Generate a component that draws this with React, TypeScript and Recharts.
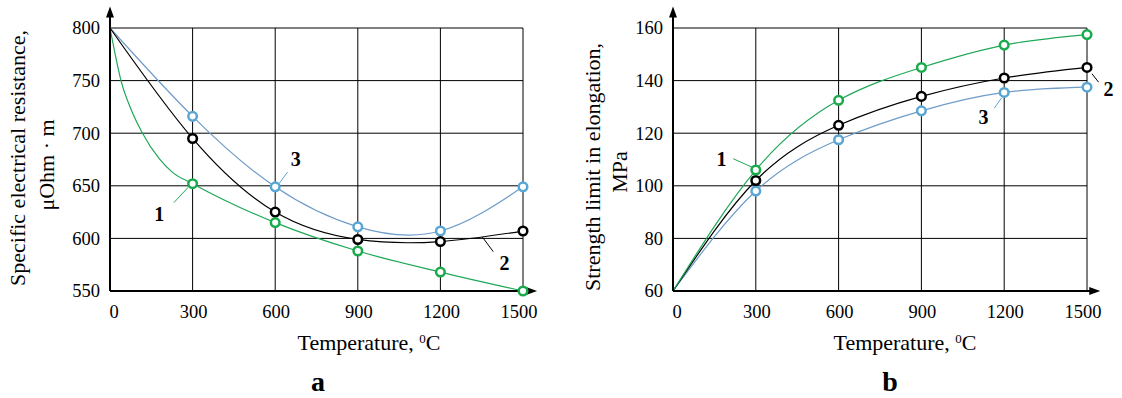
import React from "react";
import {
  LineChart,
  Line,
  XAxis,
  YAxis,
  CartesianGrid,
  ReferenceLine,
  ReferenceDot,
} from "recharts";

// ---------- data ----------
const temps = [0, 300, 600, 900, 1200, 1500];
const markedTemps = [300, 600, 900, 1200, 1500];
const xTicks = [0, 300, 600, 900, 1200, 1500];

// chart a: specific electrical resistance, µOhm·m
const resist1Temps = [0, 22, 40, 76, 118, 178, 226, 300, 600, 900, 1200, 1500];
const resist1 = [800, 771, 750, 723, 700, 676, 663, 652, 615, 588, 568, 550];
const resist2 = [800, 695, 625, 599, 597, 607];
const resist3 = [800, 716, 649, 611, 607, 649];
const resistTicks = [550, 600, 650, 700, 750, 800];

// chart b: strength limit in elongation, MPa
const strength1 = [60, 106, 132.5, 145, 153.5, 157.5];
const strength2 = [60, 102, 123, 134, 141, 145];
const strength3 = [60, 98, 117.5, 128.5, 135.5, 137.5];
const strengthTicks = [60, 80, 100, 120, 140, 160];

const toPoints = (xs: number[], ys: number[]) =>
  xs.map((t, i) => ({ t, v: ys[i] }));

// ---------- styles ----------
const SERIF = "'Liberation Serif', 'Times New Roman', Times, serif";
const GREEN = "#1ea858";
const GREEN_DOT = "#19aa4c";
const BLUE = "#6f9cc8";
const BLUE_DOT = "#5aa6d3";
const BLACK = "#000";

const makeDot = (color: string) => (props: any) => {
  const { cx, cy, payload, index } = props;
  if (!markedTemps.includes(payload.t) || cx == null || cy == null)
    return <g key={`e${index}`} />;
  return (
    <circle
      key={`d${index}`}
      cx={cx}
      cy={cy}
      r={4.3}
      fill="#fff"
      stroke={color}
      strokeWidth={2.5}
    />
  );
};

const upArrow = (p: any) => (
  <path
    d={`M${p.cx},${p.cy} L${p.cx - 4},${p.cy + 11} L${p.cx + 4},${p.cy + 11} Z`}
    fill="#000"
  />
);
const rightArrow = (p: any) => (
  <path
    d={`M${p.cx},${p.cy} L${p.cx - 11},${p.cy - 4} L${p.cx - 11},${p.cy + 4} Z`}
    fill="#000"
  />
);
const numLabel = (txt: string) => (p: any) => (
  <text
    x={p.cx}
    y={p.cy}
    textAnchor="middle"
    dominantBaseline="central"
    style={{ fontFamily: SERIF, fontWeight: "bold", fontSize: 20 }}
    fill="#000"
  >
    {txt}
  </text>
);

const tickText: React.CSSProperties = { fontFamily: SERIF, fontSize: 18.5 };

const XTick = (p: any) => {
  const v = p.payload.value;
  const dx = v === 0 ? 4 : v === 1500 ? -4 : 1;
  return (
    <text
      x={p.x + dx}
      y={p.y}
      dy="0.71em"
      textAnchor="middle"
      style={tickText}
      fill="#000"
    >
      {v}
    </text>
  );
};
const YTick = (p: any) => (
  <text
    x={p.x}
    y={p.y}
    dy="0.35em"
    textAnchor="end"
    style={tickText}
    fill="#000"
  >
    {p.payload.value}
  </text>
);

const titleStyle: React.CSSProperties = {
  position: "absolute",
  fontFamily: SERIF,
  fontSize: 22,
  color: "#000",
  whiteSpace: "nowrap",
  lineHeight: 1,
};

const Rot = ({ x, y, children }: any) => (
  <div
    style={{
      ...titleStyle,
      left: x,
      top: y,
      transform: "translate(-50%, -50%) rotate(-90deg)",
    }}
  >
    {children}
  </div>
);

const XTitle = ({ x, y }: any) => (
  <div style={{ ...titleStyle, left: x, top: y, transform: "translate(-50%, -50%)" }}>
    Temperature, <sup style={{ fontSize: 13, verticalAlign: "7px" }}>0</sup>C
  </div>
);

const Letter = ({ x, y, children }: any) => (
  <div
    style={{
      ...titleStyle,
      fontSize: 28,
      fontWeight: "bold",
      left: x,
      top: y,
      transform: "translate(-50%, -50%)",
    }}
  >
    {children}
  </div>
);

const margins = { top: 28, bottom: 77 };

export default function App() {
  return (
    <div
      style={{
        position: "absolute",
        left: 0,
        top: 0,
        width: 1122,
        height: 398,
        background: "#fff",
        overflow: "hidden",
      }}
    >
      {/* ---------------- chart a ---------------- */}
      <div style={{ position: "absolute", left: 0, top: 0 }}>
        <LineChart
          width={560}
          height={398}
          margin={{ top: margins.top, right: 37, bottom: margins.bottom, left: 50 }}
        >
          <CartesianGrid stroke="#000" strokeWidth={1} />
          <XAxis
            dataKey="t"
            type="number"
            domain={[0, 1500]}
            ticks={xTicks}
            tickLine={false}
            axisLine={{ stroke: "#000", strokeWidth: 2 }}
            tick={XTick}
            tickMargin={8}
            height={30}
            interval={0}
            allowDuplicatedCategory={false}
          />
          <YAxis
            type="number"
            domain={[550, 800]}
            ticks={resistTicks}
            tickLine={false}
            axisLine={{ stroke: "#000", strokeWidth: 2 }}
            tick={YTick}
            tickMargin={4}
            width={60}
            interval={0}
          />
          <ReferenceLine
            segment={[{ x: 0, y: 800 }, { x: 0, y: 812 }]}
            stroke="#000"
            strokeWidth={2}
            ifOverflow="visible"
          />
          <ReferenceDot x={0} y={820.4} r={0} shape={upArrow} ifOverflow="visible" />
          <ReferenceLine
            segment={[{ x: 1500, y: 550 }, { x: 1540, y: 550 }]}
            stroke="#000"
            strokeWidth={2}
            ifOverflow="visible"
          />
          <ReferenceDot x={1551} y={550} r={0} shape={rightArrow} ifOverflow="visible" />

          <Line
            data={toPoints(temps, resist3)}
            dataKey="v"
            type="natural"
            stroke={BLUE}
            strokeWidth={1.2}
            dot={makeDot(BLUE_DOT)}
            activeDot={false}
            isAnimationActive={false}
          />
          <Line
            data={toPoints(temps, resist2)}
            dataKey="v"
            type="natural"
            stroke={BLACK}
            strokeWidth={1.2}
            dot={makeDot(BLACK)}
            activeDot={false}
            isAnimationActive={false}
          />
          <Line
            data={toPoints(resist1Temps, resist1)}
            dataKey="v"
            type="monotone"
            stroke={GREEN}
            strokeWidth={1.2}
            dot={makeDot(GREEN_DOT)}
            activeDot={false}
            isAnimationActive={false}
          />

          {/* curve labels */}
          <ReferenceLine
            segment={[{ x: 232, y: 634 }, { x: 284, y: 648.6 }]}
            stroke={GREEN}
            strokeWidth={1}
            ifOverflow="visible"
          />
          <ReferenceDot x={179} y={623} r={0} shape={numLabel("1")} ifOverflow="visible" />
          <ReferenceLine
            segment={[{ x: 1352, y: 601.4 }, { x: 1392, y: 587.4 }]}
            stroke={BLACK}
            strokeWidth={1}
            ifOverflow="visible"
          />
          <ReferenceDot x={1433} y={577} r={0} shape={numLabel("2")} ifOverflow="visible" />
          <ReferenceLine
            segment={[{ x: 645, y: 663 }, { x: 608, y: 650 }]}
            stroke={BLUE_DOT}
            strokeWidth={1}
            ifOverflow="visible"
          />
          <ReferenceDot x={675} y={675.7} r={0} shape={numLabel("3")} ifOverflow="visible" />
        </LineChart>
      </div>

      {/* ---------------- chart b ---------------- */}
      <div style={{ position: "absolute", left: 560, top: 0 }}>
        <LineChart
          width={562}
          height={398}
          margin={{ top: margins.top, right: 35, bottom: margins.bottom, left: 53 }}
        >
          <CartesianGrid stroke="#000" strokeWidth={1} />
          <XAxis
            dataKey="t"
            type="number"
            domain={[0, 1500]}
            ticks={xTicks}
            tickLine={false}
            axisLine={{ stroke: "#000", strokeWidth: 2 }}
            tick={XTick}
            tickMargin={8}
            height={30}
            interval={0}
            allowDuplicatedCategory={false}
          />
          <YAxis
            type="number"
            domain={[60, 160]}
            ticks={strengthTicks}
            tickLine={false}
            axisLine={{ stroke: "#000", strokeWidth: 2 }}
            tick={YTick}
            tickMargin={4}
            width={60}
            interval={0}
          />
          <ReferenceLine
            segment={[{ x: 0, y: 160 }, { x: 0, y: 164.5 }]}
            stroke="#000"
            strokeWidth={2}
            ifOverflow="visible"
          />
          <ReferenceDot x={0} y={168.2} r={0} shape={upArrow} ifOverflow="visible" />
          <ReferenceLine
            segment={[{ x: 1500, y: 60 }, { x: 1537, y: 60 }]}
            stroke="#000"
            strokeWidth={2}
            ifOverflow="visible"
          />
          <ReferenceDot x={1548} y={60} r={0} shape={rightArrow} ifOverflow="visible" />

          <Line
            data={toPoints(temps, strength3)}
            dataKey="v"
            type="natural"
            stroke={BLUE}
            strokeWidth={1.2}
            dot={makeDot(BLUE_DOT)}
            activeDot={false}
            isAnimationActive={false}
          />
          <Line
            data={toPoints(temps, strength2)}
            dataKey="v"
            type="natural"
            stroke={BLACK}
            strokeWidth={1.2}
            dot={makeDot(BLACK)}
            activeDot={false}
            isAnimationActive={false}
          />
          <Line
            data={toPoints(temps, strength1)}
            dataKey="v"
            type="natural"
            stroke={GREEN}
            strokeWidth={1.2}
            dot={makeDot(GREEN_DOT)}
            activeDot={false}
            isAnimationActive={false}
          />

          <ReferenceLine
            segment={[{ x: 218, y: 110.3 }, { x: 290, y: 106.9 }]}
            stroke={GREEN}
            strokeWidth={1}
            ifOverflow="visible"
          />
          <ReferenceDot x={176} y={110.1} r={0} shape={numLabel("1")} ifOverflow="visible" />
          <ReferenceLine
            segment={[{ x: 1518, y: 142.6 }, { x: 1542, y: 139.4 }]}
            stroke={BLACK}
            strokeWidth={1}
            ifOverflow="visible"
          />
          <ReferenceDot x={1578} y={136.8} r={0} shape={numLabel("2")} ifOverflow="visible" />
          <ReferenceLine
            segment={[{ x: 1164, y: 129.5 }, { x: 1191, y: 133.5 }]}
            stroke={BLUE_DOT}
            strokeWidth={1}
            ifOverflow="visible"
          />
          <ReferenceDot x={1125} y={126} r={0} shape={numLabel("3")} ifOverflow="visible" />
        </LineChart>
      </div>

      {/* titles */}
      <Rot x={18} y={158}>Specific electrical resistance,</Rot>
      <Rot x={47} y={165}>μOhm · m</Rot>
      <XTitle x={369} y={343} />
      <Letter x={318} y={382}>a</Letter>

      <Rot x={593} y={167}>Strength limit in elongation,</Rot>
      <Rot x={620} y={172}>MPa</Rot>
      <XTitle x={905} y={343} />
      <Letter x={890} y={382}>b</Letter>
    </div>
  );
}
